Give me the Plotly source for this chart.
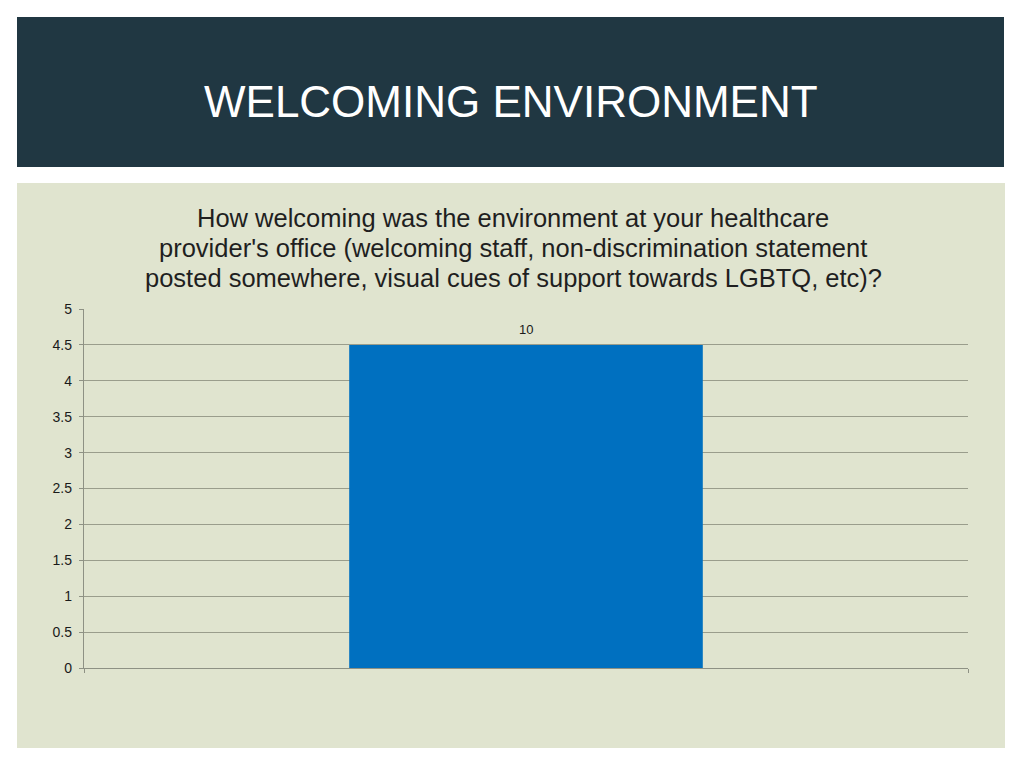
import plotly.graph_objects as go

# Data
categories = ["Welcoming"]
values = [4.5]
bar_labels = ["10"]
y_ticks = [0, 0.5, 1, 1.5, 2, 2.5, 3, 3.5, 4, 4.5, 5]
y_tick_text = ["0", "0.5", "1", "1.5", "2", "2.5", "3", "3.5", "4", "4.5", "5"]

slide_title = "WELCOMING ENVIRONMENT"
chart_title_lines = [
    "How welcoming was the environment at your healthcare",
    "provider's office (welcoming staff, non-discrimination statement",
    "posted somewhere, visual cues of support towards LGBTQ, etc)?",
]

# page is drawn with an 8px body offset, so shift everything back
OFF = 8
# Plot area in screen pixels: x 84..968, y 309..668
L, R, T, B = 84 - OFF, 968 - OFF, 309 - OFF, 668 - OFF
W, H = R - L, B - T


def px_x(p):
    return (p - OFF - L) / W


def px_y(p):
    return (B - (p - OFF)) / H


fig = go.Figure()

fig.add_trace(go.Bar(x=categories, y=values,
                     marker=dict(color="#0070c0", line=dict(width=0)),
                     width=0.4, hoverinfo="skip"))

# value label above the bar
for c, v, t in zip(categories, values, bar_labels):
    fig.add_annotation(x=c, y=v, text=t, showarrow=False, yanchor="bottom",
                       yshift=6, font=dict(family="Liberation Sans, Arial", size=13, color="#1a1a1a"))

# Header band and chart panel
fig.add_shape(type="rect", xref="paper", yref="paper", layer="below",
              x0=px_x(17), x1=px_x(1004), y0=px_y(167), y1=px_y(17),
              fillcolor="#203742", line=dict(width=0))
fig.add_shape(type="rect", xref="paper", yref="paper", layer="below",
              x0=px_x(17), x1=px_x(1005), y0=px_y(748), y1=px_y(183),
              fillcolor="#e0e4cf", line=dict(width=0))

fig.add_annotation(text=slide_title, xref="paper", yref="paper",
                   x=px_x(511), y=px_y(101), showarrow=False,
                   xanchor="center", yanchor="middle",
                   font=dict(family="Liberation Sans, Arial", size=44, color="white"))

for i, line in enumerate(chart_title_lines):
    fig.add_annotation(text=line, xref="paper", yref="paper",
                       x=px_x(513), y=px_y(218 + 30 * i), showarrow=False,
                       xanchor="center", yanchor="middle",
                       font=dict(family="Liberation Sans, Arial", size=25.5, color="#1f1f1f"))

fig.update_layout(
    width=1024, height=768,
    margin=dict(l=L, r=1024 - R, t=T, b=768 - B),
    paper_bgcolor="white", plot_bgcolor="rgba(0,0,0,0)",
    showlegend=False,
)

fig.update_yaxes(range=[0, 5], tickvals=y_ticks, ticktext=y_tick_text,
                 showgrid=True, gridcolor="#9a9d8c", gridwidth=1.3,
                 showline=True, linecolor="#8e9184", linewidth=1.3,
                 ticks="outside", ticklen=4, tickcolor="#8e9184",
                 ticklabelstandoff=4,
                 tickfont=dict(family="Liberation Sans, Arial", size=14, color="#1a1a1a"),
                 zeroline=False)
fig.update_xaxes(showticklabels=False, showline=True, linecolor="#8e9184",
                 linewidth=1.3, ticks="outside", ticklen=4, tickcolor="#8e9184",
                 tickson="boundaries", showgrid=False)

fig.write_html("out.html")
